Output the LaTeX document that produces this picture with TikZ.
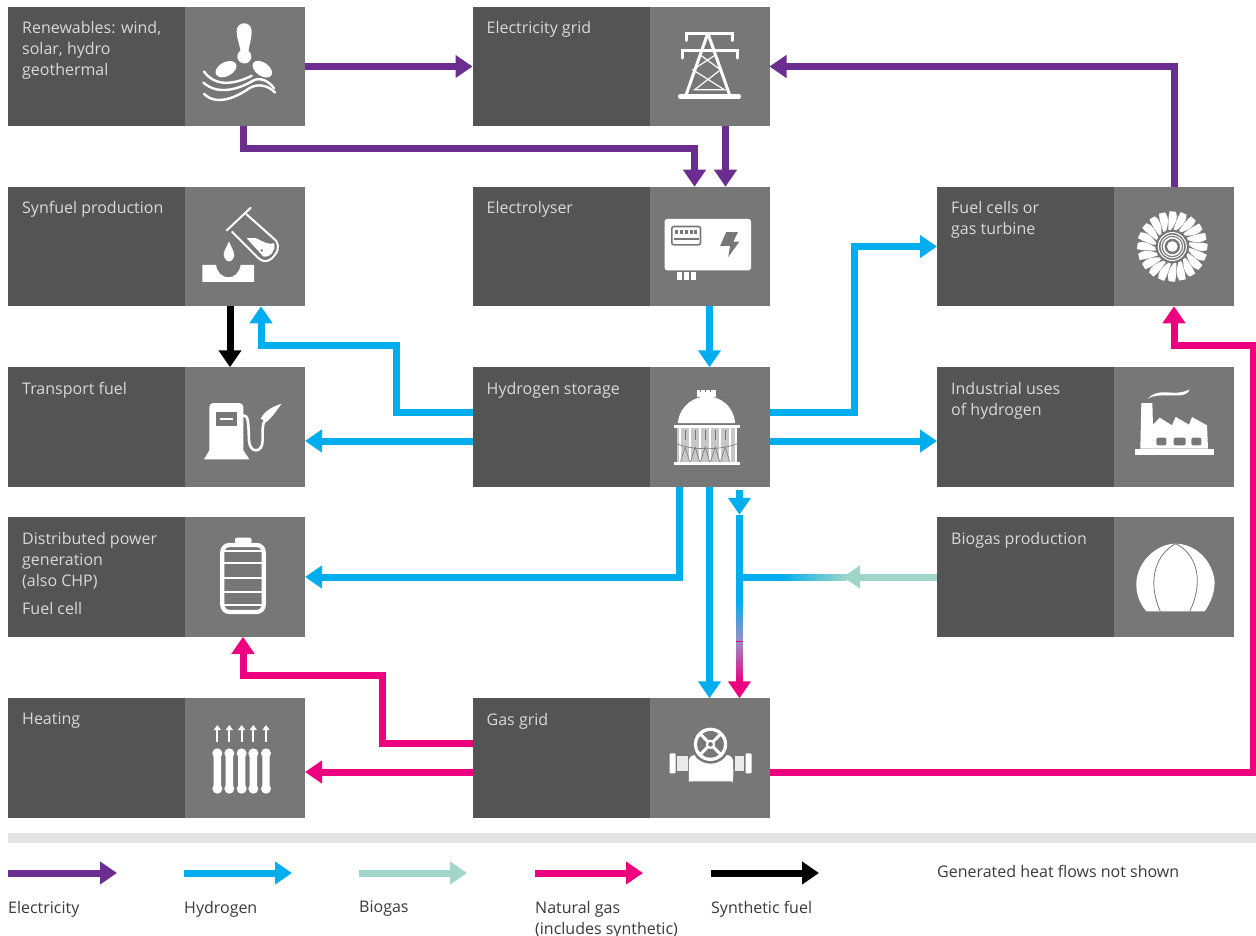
\documentclass[tikz,border=0pt]{standalone}
\usepackage{fontspec}
\setmainfont{Open Sans}
\usetikzlibrary{arrows.meta,calc}
\definecolor{boxdark}{HTML}{545454}
\definecolor{boxlight}{HTML}{777777}
\definecolor{cel}{HTML}{6C2D91}
\definecolor{chy}{HTML}{00AEEF}
\definecolor{cbi}{HTML}{9FD6C9}
\definecolor{cng}{HTML}{EC007F}
\definecolor{cmix}{HTML}{9A8FC6}
\definecolor{ctext}{HTML}{D9D9D9}
\definecolor{clegend}{HTML}{3A3A3A}
\tikzset{
  darkbox/.style={fill=boxdark,draw=none,minimum width=297pt,minimum height=119.5pt,inner sep=0pt,outer sep=0pt},
  iconpanel/.style={fill=boxlight,draw=none,minimum width=120pt,minimum height=119.5pt,inner sep=0pt,outer sep=0pt},
  boxtext/.style={text=ctext,anchor=north west,inner sep=0pt,align=left,font=\fontsize{16}{21}\selectfont},
  legendtext/.style={text=clegend,anchor=north west,inner sep=0pt,align=left,font=\fontsize{16}{21}\selectfont},
  flow/.style={line width=7pt,miter limit=10,-{Triangle[length=17pt,width=22pt]}},
  nohead/.style={line width=7pt},
  elflow/.style={flow,draw=cel},
  hyflow/.style={flow,draw=chy},
  biflow/.style={flow,draw=cbi},
  ngflow/.style={flow,draw=cng},
  syflow/.style={flow,draw=black},
}
\newcommand{\gbox}[4]{%
  \node[darkbox] (#1) at (#2,#3) {};
  \node[iconpanel,anchor=east] (#1I) at (#1.east) {};
  \node[boxtext] (#1T) at ([xshift=14pt,yshift=-14.5pt]#1.north west) {#4};
}
\newcommand{\iconat}[4]{\begin{scope}[shift={(#1.center)},x=.3333pt,y=-.3333pt,shift={(-#2,-#3)},white]#4\end{scope}}
\begin{document}
\begin{tikzpicture}[x=1pt,y=-1pt]
\useasboundingbox (0,0) rectangle (1256,936);
\fill[white] (0,0) rectangle (1256,936);
% boxes
\gbox{renew}{156.5}{66.5}{Renewables: wind,\\solar, hydro\\geothermal}
\gbox{grid}{621}{66.5}{Electricity grid}
\gbox{syn}{156.5}{246.5}{Synfuel production}
\gbox{elec}{621}{246.5}{Electrolyser}
\gbox{fuel}{1085.5}{246.5}{Fuel cells or\\gas turbine}
\gbox{trans}{156.5}{427}{Transport fuel}
\gbox{stor}{621}{427}{Hydrogen storage}
\gbox{ind}{1085.5}{427}{Industrial uses\\of hydrogen}
\gbox{dist}{156.5}{577}{Distributed power\\generation\\(also CHP)\\[7pt]Fuel cell}
\gbox{bio}{1085.5}{577}{Biogas production}
\gbox{heat}{156.5}{758}{Heating}
\gbox{gas}{621}{758}{Gas grid}
% lanes and bend points
\coordinate (a1) at ([xshift=-2pt]renewI.south);
\coordinate (a2) at ([xshift=-15pt]elecI.north);
\coordinate (lane1) at (0,149);
\coordinate (a3) at ([yshift=15pt]stor.west);
\coordinate (a4) at ([xshift=16pt]synI.south);
\coordinate (b1) at (396,0);
\coordinate (b2) at (0,345);
\coordinate (c1) at ([yshift=15pt]stor.east);
\coordinate (c2) at (854,0);
\coordinate (d1) at ([xshift=-30pt]storI.south);
\coordinate (e1) at ([yshift=15pt]gas.west);
\coordinate (e2) at ([xshift=-2pt]distI.south);
\coordinate (e3) at (382,0);
\coordinate (e4) at (0,675);
\coordinate (f1) at ([yshift=-14pt]gas.east);
\coordinate (f2) at (1253,0);
\coordinate (f3) at (fuelI.south);
% electricity
\draw[elflow] (renew.east) -- (grid.west);
\draw[elflow] (a1) |- (a2 |- lane1) -- (a2);
\draw[elflow] ([xshift=16pt]gridI.south) -- ([xshift=16pt]elecI.north);
\draw[elflow] (fuelI.north) |- (grid.east);
% hydrogen
\draw[hyflow] (elecI.south) -- (storI.north);
\draw[syflow] ([xshift=-15pt]synI.south) -- ([xshift=-15pt]transI.north);
\draw[hyflow] (a3) -| (b1 |- b2) -| (a4);
\draw[hyflow] ([yshift=-14pt]stor.west) -- ([yshift=-14pt]trans.east);
\draw[hyflow] (c1) -| (c2 |- fuel.west) -- (fuel.west);
\draw[hyflow] ([yshift=-14pt]stor.east) -- ([yshift=-14pt]ind.west);
\draw[hyflow] (d1) |- (dist.east);
\draw[hyflow] (storI.south) -- (gasI.north);
% blended line into the gas grid
\coordinate (j0) at ([xshift=30pt,yshift=-3pt]storI.south);
\coordinate (j1) at ([xshift=30pt,yshift=-28pt]storI.south);
\coordinate (j2) at (j0 |- bio.west);
\coordinate (j3) at ([xshift=30pt]gasI.north);
\coordinate (j4) at (j2 |- 0,600);
\coordinate (bt) at (843,577);
\coordinate (bm) at (780,577);
\draw[hyflow] (j0) -- (j1);
\draw[ngflow] (j1) -- (j3);
\draw[nohead,draw=chy] (j1) -- (j4);
\foreach \i in {0,...,19} {
  \pgfmathtruncatemacro{\pp}{100-\i*5}
  \fill[cng!\pp!cmix] ($(j4)+(-3.5,80-\i*2)$) rectangle ($(j4)+(3.5,80-\i*2+2.5)$);
}
\foreach \i in {0,...,19} {
  \pgfmathtruncatemacro{\pp}{100-\i*5}
  \fill[chy!\pp!cmix] ($(j4)+(-3.5,\i*2)$) rectangle ($(j4)+(3.5,\i*2+2.5)$);
}
\draw[nohead,draw=chy] (j2) -- (bm);
\foreach \i in {0,...,32} {
  \pgfmathtruncatemacro{\pp}{100-\i*3}
  \fill[chy!\pp!cbi] ($(bm)+(\i*2,-3.5)$) rectangle ($(bm)+(\i*2+2.5,3.5)$);
}
\draw[biflow] (bio.west) -- (bt);
% natural gas
\draw[ngflow] (e1) -| (e3 |- e4) -| (e2);
\draw[ngflow] ([yshift=-14pt]gas.west) -- ([yshift=-14pt]heat.east);
\draw[ngflow] (f1) -| (f2 |- b2) -| (f3);
% legend
\fill[black!11] (8,833) rectangle (1256,843);
\foreach \n/\xa/\xb/\sty in {la/8/117/elflow,lb/184/292/hyflow,lc/359/467/biflow,ld/535/643/ngflow,le/711/819/syflow}{
  \coordinate (\n0) at (\xa,873);
  \coordinate (\n1) at (\xb,873);
  \draw[\sty] (\n0) -- (\n1);
}
\node[legendtext] (ltA) at (8,901) {Electricity};
\node[legendtext] (ltB) at (184,901) {Hydrogen};
\node[legendtext] (ltC) at (359,901) {Biogas};
\node[legendtext] (ltD) at (535,901) {Natural gas\\(includes synthetic)};
\node[legendtext] (ltE) at (711,901) {Synthetic fuel};
\node[legendtext] (ltF) at (937,865) {Generated heat flows not shown};
% --- icons ---
% renewables
\iconat{renewI}{735}{200}{
  \fill (710,95) .. controls (710,62) and (755,62) .. (755,95) .. controls (755,115) and (748,135) .. (745,155) -- (722,155) .. controls (719,135) and (710,115) .. (710,95) -- cycle;
  \fill (733,170) circle (21);
  \fill[rotate around={28:(678,208)}] (678,208) ellipse (34 and 21);
  \fill[rotate around={-35:(787,208)}] (787,208) ellipse (33 and 20);
  \draw[line width=2.4pt,line cap=round] (612,215) .. controls (640,255) and (690,260) .. (755,228);
  \draw[line width=2.4pt,line cap=round] (610,248) .. controls (650,285) and (710,272) .. (760,242) .. controls (780,232) and (805,242) .. (822,265);
  \draw[line width=2.4pt,line cap=round] (612,282) .. controls (650,320) and (710,292) .. (750,264) .. controls (775,250) and (805,257) .. (825,278);
}
% grid tower
\iconat{gridI}{750}{200}{
  \begin{scope}[line width=3pt,line cap=round]
  \draw (680,122) -- (680,100) -- (820,100) -- (820,122);
  \draw (668,175) -- (668,152) -- (835,152) -- (835,175);
  \draw (745,100) -- (678,290);
  \draw (745,100) -- (812,290);
  \end{scope}
  \draw[line width=4.5pt,line cap=round] (662,290) -- (838,290);
  \draw[line width=1.2pt] (722,165) -- (783,210) -- (705,270) -- (795,270) -- (700,210) -- (768,165);
}
% synfuel
\iconat{synI}{735}{740}{
  \draw[line width=2pt,line cap=round,line join=round] (680,692) -- (752,624) ;
  \draw[line width=2pt] (695,695) -- (772,772) .. controls (795,795) and (815,780) .. (825,765) .. controls (840,745) and (835,725) .. (820,715) -- (738,642);
  \fill (740,715) -- (768,715) .. controls (790,725) and (800,735) .. (822,730) .. controls (830,750) and (810,775) .. (790,770) -- cycle;
  \fill[boxlight] (785,752) circle (4);
  \fill (687,725) .. controls (675,750) and (668,760) .. (672,770) .. controls (680,790) and (695,790) .. (702,770) .. controls (705,760) and (698,750) .. (687,725) -- cycle;
  \fill (607,795) -- (648,795) .. controls (655,845) and (715,845) .. (722,795) -- (762,795) -- (762,846) -- (607,846) -- cycle;
}
% electrolyser
\iconat{elecI}{750}{740}{
  \fill[rounded corners=3pt] (615,657) rectangle (875,812);
  \draw[boxlight,line width=1.6pt,rounded corners=2pt] (637,680) rectangle (723,735);
  \foreach \xx in {650,665,680,695,708} \fill[boxlight] (\xx-4,690) rectangle (\xx+4,702);
  \draw[boxlight,line width=1.5pt] (642,717) -- (718,717);
  \fill[boxlight] (800,697) -- (835,697) -- (822,725) -- (840,725) -- (806,772) -- (812,738) -- (782,738) -- cycle;
  \foreach \xx in {660,680,702} \fill (\xx-8,818) rectangle (\xx+8,840);
}
% fuel cell turbine
\iconat{fuelI}{733}{200}{
  \foreach \aa in {0,18,...,342} {
    \begin{scope}[rotate around={\aa:(728,200)}]
      \fill (724,150) .. controls (738,132) and (746,114) .. (739,96) -- (720,94) .. controls (715,115) and (716,135) .. (716,150) -- cycle;
    \end{scope}
  }
  \fill[boxlight] (728,200) circle (48);
  \draw[line width=1pt] (728,200) circle (42);
  \draw[line width=1pt] (728,200) circle (34);
  \draw[line width=1.6pt] (728,200) circle (26);
  \fill (728,200) circle (16);
}
% pump
\iconat{transI}{195}{200}{
  \fill[rounded corners=4pt] (88,128) -- (190,128) -- (190,290) -- (88,290) -- cycle;
  \fill (72,297) -- (88,270) -- (190,270) -- (208,297) -- cycle;
  \fill[boxlight] (108,155) rectangle (170,197);
  \fill (120,172) rectangle (158,180);
  \draw[line width=2.6pt,line cap=round] (190,165) .. controls (205,165) and (205,185) .. (207,240) .. controls (208,280) and (248,280) .. (248,240) -- (248,205) .. controls (248,185) and (260,170) .. (272,155);
  \fill (242,175) .. controls (255,150) and (280,138) .. (305,130) .. controls (295,142) and (282,165) .. (260,185) -- cycle;
}
% storage
\iconat{storI}{210}{200}{
  \fill (115,188) .. controls (120,135) and (165,108) .. (202,108) .. controls (240,108) and (282,135) .. (287,188) -- cycle;
  \fill (172,90) rectangle (230,110);
  \foreach \xx in {183,198,213} \fill[boxlight] (\xx-2,90) rectangle (\xx+2,96);
  \fill (103,194) rectangle (300,204);
  \fill (103,305) rectangle (300,314);
  \fill[white,opacity=.6] (112,204) rectangle (292,305);
  \foreach \xx in {122,152,182,212,242,272,290} \fill (\xx-3,204) rectangle (\xx+3,305);
  \draw[boxlight,line width=.6pt] (112,250) .. controls (150,270) and (250,270) .. (292,250);
  \foreach \xx in {137,167,197,227,257} {\draw[boxlight,line width=.6pt] (\xx-14,305) -- (\xx,260) -- (\xx+14,305); \draw[boxlight,line width=.6pt] (\xx,210) -- (\xx,240);}
}
% industry
\iconat{indI}{733}{740}{
  \fill (615,805) rectangle (853,825);
  \fill (635,668) -- (668,668) -- (672,805) -- (632,805) -- cycle;
  \fill (668,805) -- (668,735) -- (690,712) -- (727,735) -- (738,710) -- (778,733) -- (787,710) -- (832,735) -- (835,805) -- cycle;
  \fill[boxlight,rounded corners=2pt] (680,772) rectangle (710,795);
  \fill[boxlight,rounded corners=2pt] (732,772) rectangle (768,795);
  \fill[boxlight,rounded corners=2pt] (785,772) rectangle (815,795);
  \fill (655,655) .. controls (680,625) and (720,640) .. (745,637) .. controls (760,635) and (770,632) .. (780,628) .. controls (770,650) and (740,645) .. (715,645) .. controls (690,645) and (670,645) .. (655,655) -- cycle;
}
% battery
\iconat{distI}{195}{653}{
  \draw[line width=4.2pt,rounded corners=7pt] (127,557) rectangle (251,758);
  \fill[rounded corners=2pt] (165,535) rectangle (215,552);
  \foreach \yy in {612,655,698} \draw[line width=1.8pt] (130,\yy) -- (248,\yy);
  \draw[line width=1.8pt] (130,576) -- (248,576);
  \draw[line width=1.8pt] (130,738) -- (248,738);
}
% biogas dome
\iconat{bioI}{733}{1190}{
  \fill (650,1293) .. controls (625,1265) and (615,1225) .. (622,1190) .. controls (635,1130) and (690,1090) .. (737,1090) .. controls (790,1090) and (840,1130) .. (853,1190) .. controls (860,1225) and (845,1265) .. (825,1293) -- cycle;
  \draw[boxlight,line width=.8pt] (738,1090) .. controls (680,1120) and (650,1200) .. (692,1293);
  \draw[boxlight,line width=.8pt] (738,1090) .. controls (800,1120) and (825,1200) .. (780,1293);
}
% radiator
\iconat{heatI}{195}{1190}{
  \foreach \xx in {112,148,185,220,258} {
    \draw[line width=2pt,-{Triangle[length=5pt,width=7pt]}] (\xx,1142) -- (\xx,1091);
    \fill[rounded corners=3pt] (\xx-11,1165) rectangle (\xx+11,1295);
    \fill (\xx,1176) circle (15);
    \fill (\xx,1282) circle (15);
  }
}
% gas meter
\iconat{gasI}{210}{204}{
  \fill[rounded corners=6pt] (148,195) -- (280,195) -- (282,262) .. controls (280,272) and (270,274) .. (262,274) -- (165,274) .. controls (155,274) and (148,268) .. (148,258) -- cycle;
  \fill[boxlight] (213,163) circle (58);
  \fill (213,163) circle (50);
  \fill[boxlight] (213,163) circle (40);
  \foreach \aa in {45,135,225,315} \draw[line width=3pt] (213,163) -- ++(\aa:42);
  \fill (213,163) circle (14);
  \fill[boxlight] (213,163) circle (7);
  \fill[rounded corners=1pt] (90,190) rectangle (108,250);
  \fill[white,opacity=.85] (112,198) rectangle (144,243);
  \fill[white,opacity=.85] (286,198) rectangle (314,243);
  \fill[rounded corners=1pt] (318,190) rectangle (336,250);
}
\end{tikzpicture}
\end{document}
